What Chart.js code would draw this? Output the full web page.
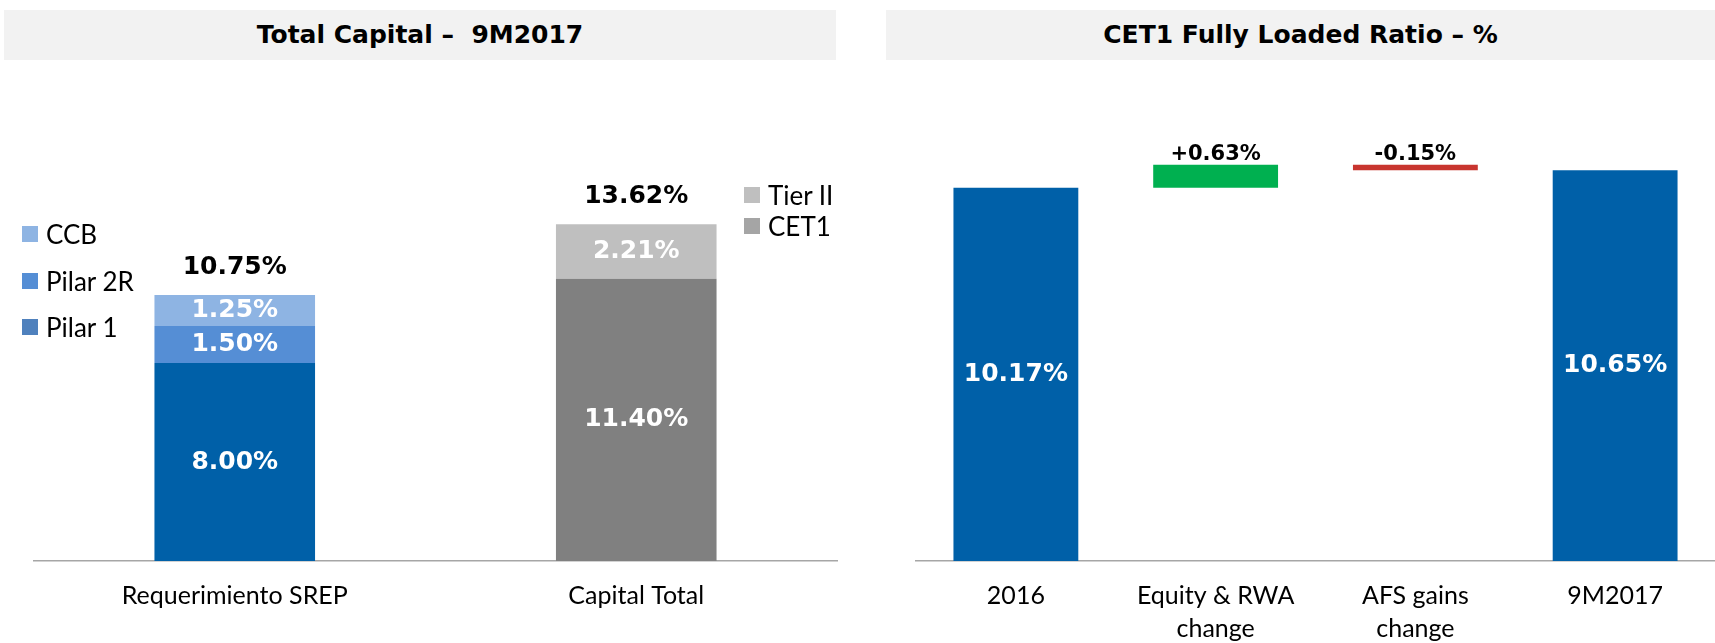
<!DOCTYPE html>
<html>
<head>
<meta charset="utf-8">
<script src="https://cdn.jsdelivr.net/npm/chart.js@4"></script>
<style>
  body { margin: 0; width: 1715px; height: 643px; position: relative; overflow: hidden; background: #fff; }
  canvas { position: absolute; top: 0; }
  .title { position: absolute; top: 10px; height: 50px; background: #f2f2f2;
    text-align: center; font: bold 25px "DejaVu Sans", sans-serif; line-height: 50px;
    color: #000; white-space: pre; z-index: 2; }
  .leg { position: absolute; font: 26px Lato, sans-serif; color: #000; white-space: nowrap; z-index: 2;
    display: flex; align-items: center; height: 30px; }
  .leg i { display: inline-block; width: 16px; height: 16px; margin-right: 8px; }
</style>
</head>
<body>
<canvas id="capChart" width="860" height="643" style="left:0"></canvas>
<canvas id="cetChart" width="855" height="643" style="left:860px"></canvas>
<div class="title" style="left:4px;width:832px">Total Capital –  9M2017</div>
<div class="title" style="left:886px;width:829px">CET1 Fully Loaded Ratio – %</div>
<div id="legLeft"></div>
<div id="legRight"></div>
<script>
// ---- data: Total Capital 9M2017 ----
const capCats = ["Requerimiento SREP", "Capital Total"];
const pilar1 = [8.00, null];
const pilar2R = [1.50, null];
const ccb = [1.25, null];
const cet1 = [null, 11.40];
const tier2 = [null, 2.21];
const capTotals = [10.75, 13.62];

// ---- data: CET1 fully loaded walk ----
const cetCats = ["2016", ["Equity & RWA", "change"], ["AFS gains", "change"], "9M2017"];
const cetSteps = [10.17, 0.63, -0.15, 10.65];
const cetKinds = ["total", "delta", "delta", "total"];

const C = {
  blue: "#0060a8", p2r: "#558ed5", ccb: "#8eb4e3", tier2: "#bfbfbf", cet1: "#808080",
  green: "#00b050", red: "#c8352f", axis: "#a6a6a6",
};
const LABEL_FONT = '"DejaVu Sans", sans-serif';
const pct = (v) => v.toFixed(2) + "%";

function drawText(ctx, text, x, y, size, color) {
  ctx.font = `bold ${size}px ${LABEL_FONT}`;
  ctx.fillStyle = color;
  ctx.textAlign = "center";
  ctx.textBaseline = "middle";
  ctx.fillText(text, x, y);
}

function xAxis(height) {
  return {
    grid: { display: false, drawTicks: false },
    border: { display: true, color: C.axis, width: 1.5 },
    ticks: { color: "#000", padding: 19, font: { family: "Lato", size: 25, lineHeight: 1.3 } },
    afterFit: (s) => { s.height = height; },
  };
}

// legends (HTML, colours match the original legend swatches)
function legend(rootId, items, left, tops) {
  const root = document.getElementById(rootId);
  items.forEach(([name, col], i) => {
    const d = document.createElement("div");
    d.className = "leg";
    d.style.left = left + "px";
    d.style.top = (tops[i] - 15) + "px";
    d.innerHTML = `<i style="background:${col}"></i>`;
    d.appendChild(document.createTextNode(name));
    root.appendChild(d);
  });
}
legend("legLeft", [["CCB", "#8eb4e3"], ["Pilar 2R", "#558ed5"], ["Pilar 1", "#4f81bd"]], 22, [234, 281, 327]);
legend("legRight", [["Tier II", "#bfbfbf"], ["CET1", "#a5a5a5"]], 744, [195, 226]);

// ---- left chart: stacked bars ----
const capLabels = {
  id: "capLabels",
  afterDatasetsDraw(chart) {
    const ctx = chart.ctx;
    ctx.save();
    chart.data.datasets.forEach((ds, i) => {
      chart.getDatasetMeta(i).data.forEach((bar, j) => {
        const v = ds.data[j];
        if (v == null) return;
        drawText(ctx, pct(v), bar.x, (bar.y + bar.base) / 2, 25, "#fff");
      });
    });
    const ys = chart.scales.y, xs = chart.scales.x;
    capTotals.forEach((t, j) => {
      drawText(ctx, pct(t), xs.getPixelForValue(j), ys.getPixelForValue(t) - 27, 25, "#000");
    });
    ctx.restore();
  },
};

new Chart(document.getElementById("capChart"), {
  type: "bar",
  data: {
    labels: capCats,
    datasets: [
      { label: "Pilar 1", data: pilar1, backgroundColor: C.blue },
      { label: "Pilar 2R", data: pilar2R, backgroundColor: C.p2r },
      { label: "CCB", data: ccb, backgroundColor: C.ccb },
      { label: "CET1", data: cet1, backgroundColor: C.cet1 },
      { label: "Tier II", data: tier2, backgroundColor: C.tier2 },
    ],
  },
  options: {
    responsive: false, animation: false,
    layout: { padding: { left: 34, right: 23, top: 66, bottom: 0 } },
    datasets: { bar: { barPercentage: 0.4, categoryPercentage: 1, stack: "cap" } },
    scales: {
      x: { ...xAxis(82), stacked: true },
      y: { display: false, stacked: true, min: 0, max: 20 },
    },
    plugins: { legend: { display: false }, tooltip: { enabled: false } },
  },
  plugins: [capLabels],
});

// ---- right chart: floating bars as a walk ----
let running = 0;
const cetRanges = cetSteps.map((v, i) => {
  if (cetKinds[i] === "total") { running = v; return [0, v]; }
  const a = running, b = running + v;
  running = b;
  return [Math.min(a, b), Math.max(a, b)];
});
const cetColors = cetSteps.map((v, i) =>
  cetKinds[i] === "total" ? C.blue : v >= 0 ? C.green : C.red);

const cetLabels = {
  id: "cetLabels",
  afterDatasetsDraw(chart) {
    const ctx = chart.ctx;
    ctx.save();
    chart.getDatasetMeta(0).data.forEach((bar, j) => {
      const v = cetSteps[j];
      const top = Math.min(bar.y, bar.base);
      if (cetKinds[j] === "total") {
        drawText(ctx, pct(v), bar.x, (bar.y + bar.base) / 2, 25, "#fff");
      } else {
        drawText(ctx, (v > 0 ? "+" : "") + pct(v), bar.x, top - 10, 21, "#000");
      }
    });
    ctx.restore();
  },
};

new Chart(document.getElementById("cetChart"), {
  type: "bar",
  data: {
    labels: cetCats,
    datasets: [{ label: "CET1 FL", data: cetRanges, backgroundColor: cetColors,
      barPercentage: 0.625, categoryPercentage: 1 }],
  },
  options: {
    responsive: false, animation: false,
    layout: { padding: { left: 56, right: 0, top: 84, bottom: 0 } },
    scales: {
      x: xAxis(82),
      y: { display: false, min: 0, max: 13 },
    },
    plugins: { legend: { display: false }, tooltip: { enabled: false } },
  },
  plugins: [cetLabels],
});
</script>
</body>
</html>
